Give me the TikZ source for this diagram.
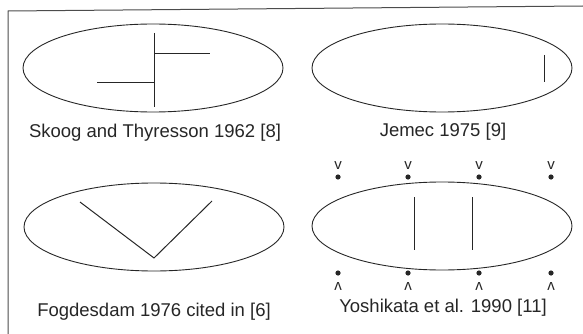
\documentclass[tikz,border=0pt]{standalone}
\usepackage{fontspec}
\setmainfont{Liberation Sans}
\usepackage{tikz}
\usetikzlibrary{shapes}
\usepackage{xcolor}

\begin{document}
\begin{tikzpicture}[x=1pt,y=-1pt,line width=1pt,black!85]
\useasboundingbox (0,0) rectangle (583,334);

% frame
\draw[black!70] (8,334) -- (8,11) -- (583,6);

\foreach \cx/\cy in {153/68, 442/68, 154/227, 442/226}
{\draw[line width=0.9pt] (\cx,\cy) ellipse [x radius=130, y radius=44];}

% Skoog
\draw (154,33) -- (154,107);
\draw (154,54) -- (210,54);
\draw (97,83) -- (154,83);

% Jemec
\draw (544,55) -- (544,82);

% Fogdesdam
\draw (80,202) -- (154,258) -- (212,201);

% Yoshikata
\draw (414,197) -- (414,250);
\draw (472,197) -- (472,250);

\foreach \x in {338,408,479,551}
{\fill (\x,177) circle (2.6);
 \node[font=\fontsize{15}{15}\selectfont,inner sep=0pt] (up\x) at (\x,166) {v};
 \fill (\x,273) circle (2.6);
 \node[font=\fontsize{15}{15}\selectfont,inner sep=0pt,rotate=180] (dn\x) at (\x,286) {v};}

\node[font=\fontsize{18.5}{20}\selectfont] (skoog) at (155,133) {Skoog and Thyresson 1962 [8]};
\node[font=\fontsize{18.5}{20}\selectfont] (jemec) at (443,132) {Jemec 1975 [9]};
\node[font=\fontsize{18.5}{20}\selectfont] (fogd) at (154,312) {Fogdesdam 1976 cited in [6]};
\node[font=\fontsize{18.5}{20}\selectfont] (yoshi) at (443,308) {Yoshikata et al. 1990 [11]};

\end{tikzpicture}
\end{document}
